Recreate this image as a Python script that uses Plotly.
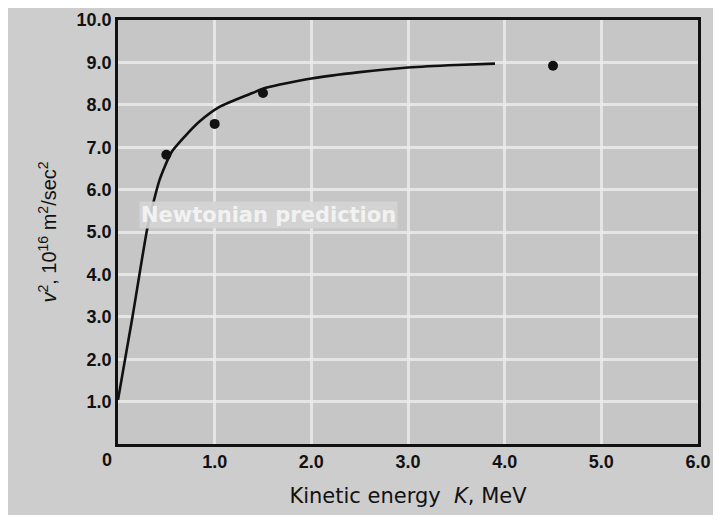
import plotly.graph_objects as go

# Measured data points (Bertozzi-style experiment)
exp_k = [0.5, 1.0, 1.5, 4.5]
exp_v2 = [6.82, 7.55, 8.28, 8.92]

# Relativistic curve, points
curve_k = [0.0, 0.15, 0.30, 0.36, 0.43, 0.55, 0.69, 0.84, 1.05, 1.36, 1.53, 2.0, 2.5, 3.0, 3.5, 3.9]
curve_v2 = [1.04, 3.0, 5.05, 5.64, 6.23, 6.87, 7.25, 7.6, 7.95, 8.25, 8.4, 8.62, 8.77, 8.88, 8.94, 8.97]

x_ticks = [1, 2, 3, 4, 5, 6]
x_ticklabels = ["1.0", "2.0", "3.0", "4.0", "5.0", "6.0"]
y_ticks = [1, 2, 3, 4, 5, 6, 7, 8, 9, 10]
y_ticklabels = ["1.0", "2.0", "3.0", "4.0", "5.0", "6.0", "7.0", "8.0", "9.0", "10.0"]

FONT = "Liberation Sans"
WIDE = "DejaVu Sans"

fig = go.Figure()
fig.add_trace(go.Scatter(
    x=curve_k, y=curve_v2, mode="lines",
    line=dict(color="#111111", width=2.6, shape="spline", smoothing=0.6),
    hoverinfo="skip", showlegend=False,
))
fig.add_trace(go.Scatter(
    x=exp_k, y=exp_v2, mode="markers",
    marker=dict(color="#111111", size=10),
    showlegend=False,
))

fig.add_annotation(
    x=0.22, y=5.4, xref="x", yref="y", xanchor="left", yanchor="middle",
    text="Newtonian prediction", showarrow=False,
    font=dict(family=WIDE, size=21, color="#f2f2f2", weight="bold"),
    bgcolor="rgba(212,212,212,0.92)",
)
fig.add_annotation(
    x=0, y=0, xref="x", yref="paper", xanchor="center", yanchor="top",
    xshift=-11, yshift=-4,
    text="0", showarrow=False,
    font=dict(family=FONT, size=18, color="#111111", weight="bold"),
)

fig.update_layout(
    width=705, height=507,
    margin=dict(l=110, r=15, t=12, b=71),
    paper_bgcolor="#cdcdcd",
    plot_bgcolor="#c6c6c6",
    font=dict(family=FONT, color="#111111"),
    xaxis=dict(
        range=[0, 6], tickvals=x_ticks, ticktext=x_ticklabels, automargin=False,
        showgrid=True, gridcolor="rgba(236,236,236,0.8)", gridwidth=3,
        zeroline=False, showline=True, linecolor="#111111", linewidth=2.5, mirror=True,
        ticks="", tickfont=dict(family=FONT, size=18, color="#111111", weight="bold"),
        title=dict(text="Kinetic energy  <i>K</i>, MeV", font=dict(family=WIDE, size=21, color="#111111"), standoff=17),
    ),
    yaxis=dict(
        range=[0, 10], tickvals=y_ticks, ticktext=y_ticklabels, automargin=False,
        showgrid=True, gridcolor="rgba(236,236,236,0.8)", gridwidth=3,
        zeroline=False, showline=True, linecolor="#111111", linewidth=2.5, mirror=True,
        ticks="", tickfont=dict(family=FONT, size=18, color="#111111", weight="bold"),
        title=dict(text="<i>v</i><sup>2</sup>, 10<sup>16</sup> m<sup>2</sup>/sec<sup>2</sup>",
                   font=dict(family=FONT, size=20, color="#111111"), standoff=15),
    ),
)

fig.write_html("out.html")
